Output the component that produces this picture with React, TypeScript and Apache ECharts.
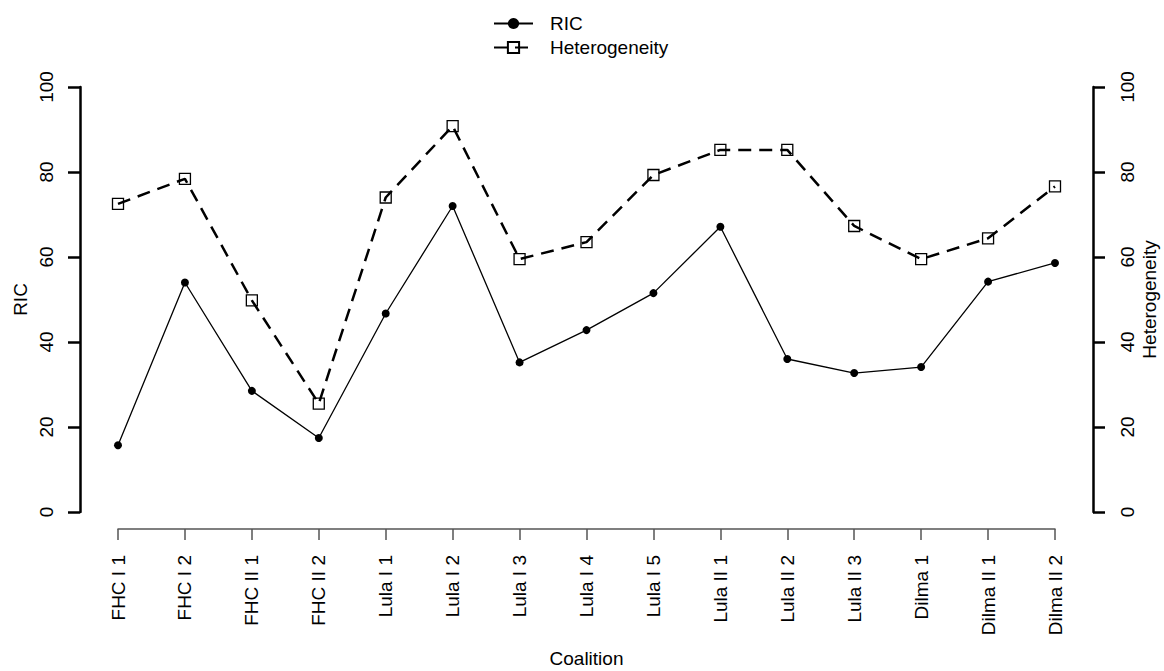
import React, { useEffect, useRef } from "react";
import * as echarts from "echarts";

const categories = [
  "FHC I 1", "FHC I 2", "FHC II 1", "FHC II 2", "Lula I 1", "Lula I 2", "Lula I 3",
  "Lula I 4", "Lula I 5", "Lula II 1", "Lula II 2", "Lula II 3", "Dilma 1",
  "Dilma II 1", "Dilma II 2",
];
const ricValues = [15.7, 54.0, 28.5, 17.4, 46.7, 72.0, 35.2, 42.8, 51.5, 67.1, 36.0, 32.7, 34.1, 54.2, 58.6];
const heterogeneityValues = [72.5, 78.4, 49.8, 25.5, 74.0, 90.8, 59.5, 63.5, 79.3, 85.2, 85.2, 67.3, 59.5, 64.4, 76.6];
const yMin = 0;
const yMax = 100;
const yInterval = 20;

const FONT = "'Liberation Sans', Arial, Helvetica, sans-serif";

export default function App() {
  const ref = useRef<HTMLDivElement>(null);
  useEffect(() => {
    document.body.style.margin = "0";
    document.body.style.overflow = "hidden";
    if (!ref.current) return;
    const chart = echarts.init(ref.current, undefined, { renderer: "svg", width: 1164, height: 671 });
    const axisText = { color: "#000", fontFamily: FONT, fontSize: 19 };
    const yAxisBase = {
      type: "value",
      min: yMin,
      max: yMax,
      interval: yInterval,
      splitLine: { show: false },
      axisLine: { show: true, onZero: false, lineStyle: { color: "#000", width: 2.5 } },
      axisTick: { show: true, length: 12, lineStyle: { color: "#000", width: 2.5 } },
      nameLocation: "middle",
      nameMoveOverlap: false,
      nameTextStyle: { ...axisText },
      offset: 38,
    };
    chart.setOption({
      animation: false,
      textStyle: { fontFamily: FONT },
      legend: {
        orient: "vertical",
        left: 493,
        top: 14,
        padding: 0,
        itemWidth: 39,
        itemHeight: 14,
        itemGap: 5,
        align: "left",
        textStyle: { ...axisText, padding: [0, 0, 0, 12] },
        data: ["RIC", "Heterogeneity"],
      },
      grid: {
        left: 118,
        right: 109,
        top: 87,
        bottom: 159,
        containLabel: false,
        outerBoundsMode: "none",
      },
      xAxis: {
        type: "category",
        data: categories,
        boundaryGap: false,
        offset: 17,
        axisLine: { show: true, onZero: false, lineStyle: { color: "#555", width: 1.5 } },
        axisTick: { show: true, length: 11, alignWithLabel: true, lineStyle: { color: "#555", width: 1.5 } },
        axisLabel: { ...axisText, rotate: 90, margin: 26, interval: 0 },
        splitLine: { show: false },
        name: "Coalition",
        nameLocation: "middle",
        nameGap: 120,
        nameMoveOverlap: false,
        nameTextStyle: { ...axisText },
      },
      yAxis: [
        {
          ...yAxisBase,
          position: "left",
          name: "RIC",
          nameGap: 50,
          axisLabel: { ...axisText, rotate: 90, margin: 24 },
        },
        {
          ...yAxisBase,
          position: "right",
          name: "Heterogeneity",
          nameGap: 47,
          axisLabel: { ...axisText, rotate: 90, margin: 25 },
        },
      ],
      series: [
        {
          name: "RIC",
          type: "line",
          yAxisIndex: 0,
          data: ricValues,
          symbol: "circle",
          symbolSize: 8,
          lineStyle: { color: "#000", width: 1.3, type: "solid" },
          itemStyle: { color: "#000" },
          z: 3,
        },
        {
          name: "Heterogeneity",
          type: "line",
          yAxisIndex: 1,
          data: heterogeneityValues,
          symbol: "rect",
          symbolSize: 11,
          lineStyle: { color: "#000", width: 2.5, type: [13, 8] },
          itemStyle: { color: "rgba(255,255,255,0)", borderColor: "#000", borderWidth: 1.3 },
          z: 2,
        },
      ],
    });
    return () => chart.dispose();
  }, []);
  return (
    <div
      ref={ref}
      style={{ position: "fixed", left: 0, top: 0, width: 1164, height: 671, background: "#fff" }}
    />
  );
}
